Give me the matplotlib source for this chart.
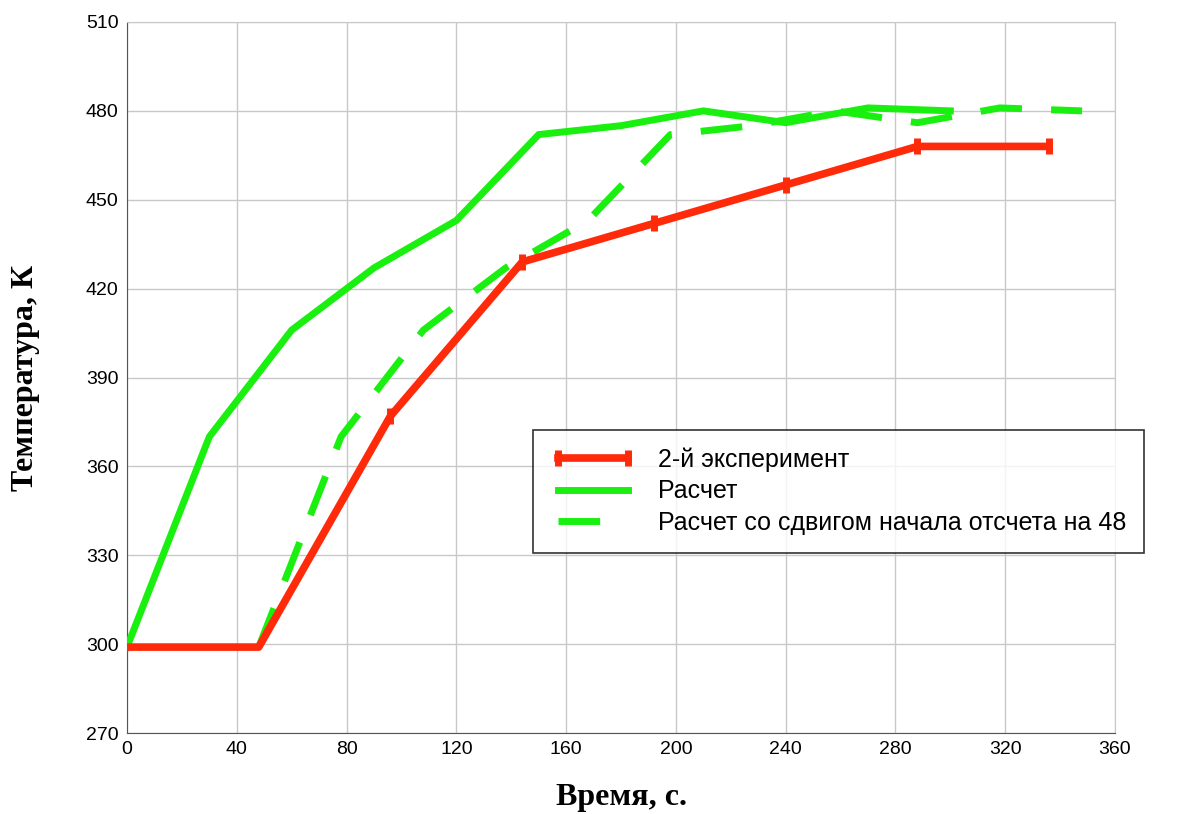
import matplotlib.pyplot as plt

# 2nd experiment
exp_t = [0, 48, 96, 144, 192, 240, 288, 336]
exp_T = [299, 299, 377, 429, 442, 455, 468, 468]

# calculation
calc_t = [0, 30, 60, 90, 120, 150, 180, 210, 240, 270, 300]
calc_T = [299, 370, 406, 427, 443, 472, 475, 480, 476, 481, 480]

# calculation shifted by 48 s
shift = 48
shift_t = [t + shift for t in calc_t]
shift_T = calc_T

fig = plt.figure(figsize=(11.92, 8.14), dpi=100)
ax = fig.add_axes([127 / 1192, 1 - 733 / 814, (1115 - 127) / 1192, (733 - 22) / 814])

ax.plot(calc_t, calc_T, color="#19f00f", lw=5, solid_joinstyle="miter",
        label="Расчет", zorder=3)
ax.plot(shift_t, shift_T, color="#19f00f", lw=5, dashes=(6, 4.2),
        label="Расчет со сдвигом начала отсчета на 48", zorder=3)
ax.plot(exp_t, exp_T, color="#ff2a0a", lw=5.5, marker="|", ms=11, mew=5,
        markevery=list(range(2, len(exp_t))),
        label="2-й эксперимент", zorder=4)

ax.set_xlim(0, 360)
ax.set_ylim(270, 510)
ax.set_xticks(range(0, 361, 40))
ax.set_yticks(range(270, 511, 30))
ax.grid(True, color="#c8c8c8", lw=1)
ax.tick_params(labelsize=14, length=0, pad=6)
for lab in ax.get_xticklabels() + ax.get_yticklabels():
    lab.set_fontfamily("Liberation Sans")
for s in ["left", "bottom"]:
    ax.spines[s].set_color("#555555")
for s in ["top", "right"]:
    ax.spines[s].set_color("#c8c8c8")

ax.set_xlabel("Время, с.", fontsize=23, fontweight="bold",
              fontfamily="Liberation Serif", labelpad=18)
ax.set_ylabel("Температура, К", fontsize=23, fontweight="bold",
              fontfamily="Liberation Serif")
ax.yaxis.set_label_coords((40 - 127) / 988, 0.5)

h, l = ax.get_legend_handles_labels()
order = [2, 0, 1]
leg = fig.legend([h[i] for i in order], [l[i] for i in order],
                 loc="upper left", bbox_to_anchor=(533 / 1192, 1 - 430 / 814),
                 borderaxespad=0, frameon=True, fancybox=False,
                 handlelength=3.4, handletextpad=0.9, numpoints=2,
                 prop={"family": "Liberation Sans", "size": 18},
                 borderpad=0.7, labelspacing=0.3)
leg.get_frame().set_edgecolor("black")
leg.get_frame().set_linewidth(1.2)

fig.savefig("out.png", dpi=100)
